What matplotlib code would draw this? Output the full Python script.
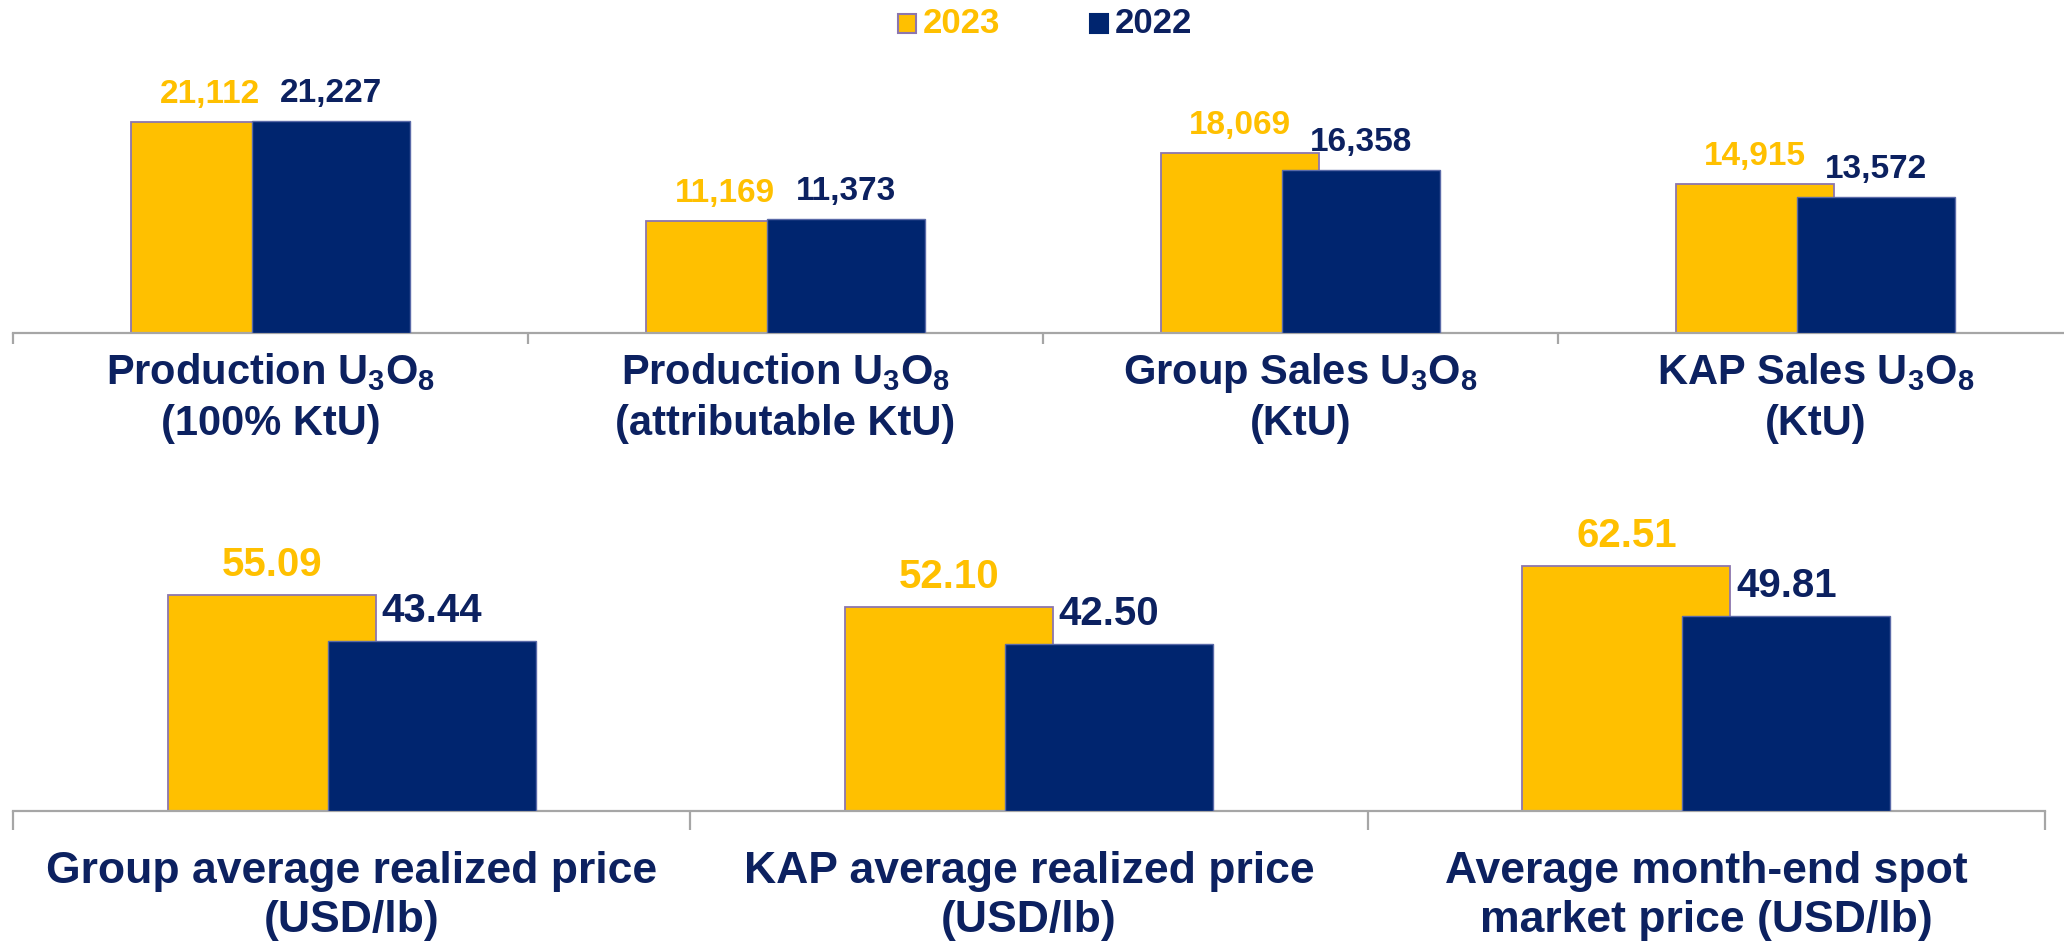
import matplotlib
matplotlib.use("Agg")
import matplotlib.pyplot as plt
from matplotlib.transforms import blended_transform_factory
from matplotlib.patches import Rectangle

plt.rcParams['font.family'] = ['Liberation Sans', 'DejaVu Sans']
plt.rcParams['font.weight'] = 'bold'
plt.rcParams['mathtext.default'] = 'regular'

# ---- data ----
top_line1 = ["Production U$_3$O$_8$", "Production U$_3$O$_8$", "Group Sales U$_3$O$_8$", "KAP Sales U$_3$O$_8$"]
top_line2 = ["(100% KtU)", "(attributable KtU)", "(KtU)", "(KtU)"]
top_2023 = [21112, 11169, 18069, 14915]
top_2022 = [21227, 11373, 16358, 13572]

bot_line1 = ["Group average realized price", "KAP average realized price", "Average month-end spot"]
bot_line2 = ["(USD/lb)", "(USD/lb)", "market price (USD/lb)"]
bot_2023 = [55.09, 52.10, 62.51]
bot_2022 = [43.44, 42.50, 49.81]

series_names = ["2023", "2022"]

YELLOW = "#FFC000"
NAVY = "#00256F"
NAVY_TXT = "#0C2160"
EDGE_Y = "#8C76AE"
EDGE_N = "#5A6AA8"
AXIS = "#A6A6A6"

W, H = 2064, 942
fig = plt.figure(figsize=(W / 100, H / 100), dpi=100)

bw = 0.307
off = 0.118


def panel(rect, y23, y22, ymax, l1, l2, fsval, base_off, l1_y, l2_y, fscat, ticklen, fmt, stretch):
    ax = fig.add_axes(rect)
    n = len(y23)
    xs = list(range(n))
    ax.bar([x - off for x in xs], y23, width=bw, color=YELLOW, edgecolor=EDGE_Y, linewidth=1.3, zorder=2)
    ax.bar([x + off for x in xs], y22, width=bw, color=NAVY, edgecolor=EDGE_N, linewidth=1.0, zorder=3)
    ax.set_xlim(-0.5, n - 0.5)
    ax.set_ylim(0, ymax)
    for s in ['top', 'left', 'right']:
        ax.spines[s].set_visible(False)
    ax.spines['bottom'].set_color(AXIS)
    ax.spines['bottom'].set_linewidth(1.6)
    ax.set_yticks([])
    ax.set_xticks([i - 0.5 for i in range(n + 1)])
    ax.set_xticklabels([])
    ax.tick_params(axis='x', direction='out', length=ticklen, width=1.6, color=AXIS)
    for x, v in zip(xs, y23):
        ax.annotate(fmt(v), xy=(x - off, v), xytext=(0, base_off), textcoords='offset pixels',
                    ha='center', va='baseline', color=YELLOW, fontsize=fsval, fontweight='bold',
                    fontstretch=stretch, zorder=5)
    for x, v in zip(xs, y22):
        ax.annotate(fmt(v), xy=(x + off, v), xytext=(0, base_off), textcoords='offset pixels',
                    ha='center', va='baseline', color=NAVY_TXT, fontsize=fsval, fontweight='bold',
                    fontstretch=stretch, zorder=5)
    tr = blended_transform_factory(ax.transData, fig.transFigure)
    for x, a, b in zip(xs, l1, l2):
        ax.text(x, 1 - l1_y / H, a, transform=tr, ha='center', va='baseline',
                fontsize=fscat, fontweight='bold', color=NAVY_TXT, clip_on=False)
        ax.text(x, 1 - l2_y / H, b, transform=tr, ha='center', va='baseline',
                fontsize=fscat, fontweight='bold', color=NAVY_TXT, clip_on=False)
    return ax


# top panel: axis at y=333 px, 21227 -> 212 px
top_ymax = 25000
top_h = top_ymax * 212 / 21227
panel([13 / W, 1 - 333 / H, 2060 / W, top_h / H], top_2023, top_2022, top_ymax,
      top_line1, top_line2, 24, 19, 384, 435, 30, 8, lambda v: f"{v:,}", 'normal')

# bottom panel: axis at y=811 px, 62.51 -> 245 px
bot_ymax = 70
bot_h = bot_ymax * 245 / 62.51
panel([13 / W, 1 - 811 / H, 2032 / W, bot_h / H], bot_2023, bot_2022, bot_ymax,
      bot_line1, bot_line2, 29, 19, 883, 932, 32, 14, lambda v: f"{v:.2f}", 'normal')

# legend
leg_colors = [YELLOW, NAVY]
leg_edges = [EDGE_Y, NAVY]
leg_txt_colors = [YELLOW, NAVY_TXT]
sq_x = [898, 1090]
for name, c, e, tc, x0 in zip(series_names, leg_colors, leg_edges, leg_txt_colors, sq_x):
    fig.patches.append(Rectangle((x0 / W, 1 - 33 / H), 18 / W, 19 / H, transform=fig.transFigure,
                                 facecolor=c, edgecolor=e, linewidth=1.5))
    fig.text((x0 + 25) / W, 1 - 33 / H, name, ha='left', va='baseline', fontsize=25,
             fontweight='bold', color=tc)

fig.savefig("out.png", dpi=100)
